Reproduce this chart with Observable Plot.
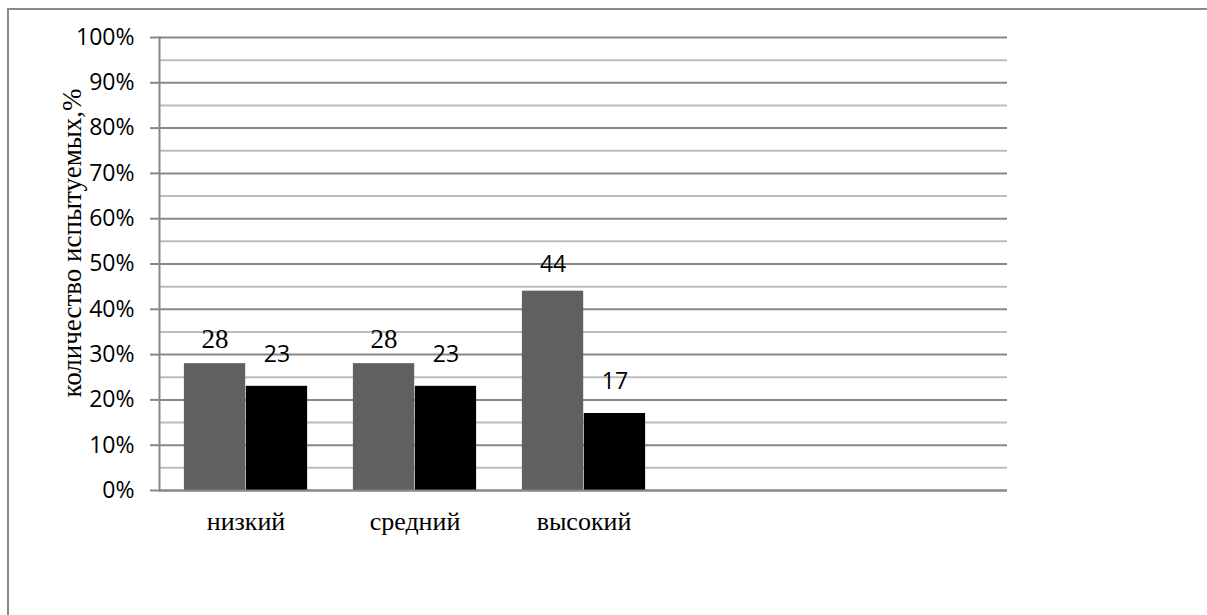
<!DOCTYPE html>
<html>
<head>
<meta charset="utf-8">
<script src="https://cdn.jsdelivr.net/npm/d3@7"></script>
<script src="https://cdn.jsdelivr.net/npm/@observablehq/plot@0.6"></script>
<style>
  html, body { margin: 0; padding: 0; background: #fff; overflow: hidden; }
  #wrap { position: relative; width: 1207px; height: 615px; overflow: hidden; }
  #border { position: absolute; left: 7px; top: 8px; width: 1400px; height: 800px;
            border: 2px solid #8a8a8a; pointer-events: none; }
</style>
</head>
<body>
<div id="wrap"><div id="chart"></div><div id="border"></div></div>
<script>
// ---- data ----
const categories = ["низкий", "средний", "высокий"];
const emptySlots = ["slot4", "slot5"];
const seriesGray = [28, 28, 44];
const seriesBlack = [23, 23, 17];
const yTicks = [0, 10, 20, 30, 40, 50, 60, 70, 80, 90, 100];
const yMinorTicks = [5, 15, 25, 35, 45, 55, 65, 75, 85, 95];
const yLabel = "количество испытуемых,%";

// ---- build table ----
const grayRows = categories.map((c, i) => ({cat: c, value: seriesGray[i]}));
const blackRows = categories.map((c, i) => ({cat: c, value: seriesBlack[i]}));

const W = 1207, H = 615;
const mL = 159, mR = 200, mT = 37, mB = 125;
const bw = (W - mL - mR) / (categories.length + emptySlots.length);
const side = bw * 0.135;          // outer gap on each side of the group
const half = (bw - 2 * side) / 2; // width of one bar
const off = half / 2;             // bar center offset from band center

const serif = "'Liberation Serif', 'Times New Roman', serif";
const sans = "'Open Sans', 'Liberation Sans', sans-serif";

const chart = Plot.plot({
  width: W,
  height: H,
  marginLeft: mL,
  marginRight: mR,
  marginTop: mT,
  marginBottom: mB,
  style: {background: "#fff", overflow: "visible"},
  x: {type: "band", domain: [...categories, ...emptySlots], padding: 0},
  y: {domain: [0, 100]},
  marks: [
    Plot.ruleY(yMinorTicks, {stroke: "#bdbdbd", strokeWidth: 2}),
    Plot.ruleY(yTicks, {stroke: "#878787", strokeWidth: 2}),
    Plot.barY(grayRows, {x: "cat", y: "value", fill: "#606060",
      insetLeft: side, insetRight: bw - side - half}),
    Plot.barY(blackRows, {x: "cat", y: "value", fill: "#000000",
      insetLeft: side + half, insetRight: side}),
    Plot.frame({anchor: "left", stroke: "#878787", strokeWidth: 2}),
    Plot.ruleY([0], {stroke: "#878787", strokeWidth: 2}),
    Plot.axisY({ticks: yTicks, tickSize: 9, tickPadding: 16, stroke: "#878787", strokeWidth: 2,
      tickFormat: d => d + "%", label: null, fontSize: 23, fontFamily: sans, fill: "#000"}),
    Plot.axisX({tickSize: 0, tickPadding: 21, label: null,
      tickFormat: d => categories.includes(d) ? d : "",
      fontSize: 26, fontFamily: serif, fill: "#000"}),
    Plot.text(grayRows.filter(d => d.cat !== "высокий"), {x: "cat", y: "value", text: d => String(d.value),
      dx: -off, dy: -24, lineAnchor: "middle", fontSize: 27, fontFamily: serif, fill: "#000"}),
    Plot.text(grayRows.filter(d => d.cat === "высокий"), {x: "cat", y: "value", text: d => String(d.value),
      dx: -off, dy: -27, lineAnchor: "middle", fontSize: 23, fontFamily: sans, fill: "#000"}),
    Plot.text(blackRows, {x: "cat", y: "value", text: d => String(d.value),
      dx: off, dy: -32, lineAnchor: "middle", fontSize: 23, fontFamily: sans, fill: "#000"}),
    Plot.text([yLabel], {frameAnchor: "left", text: d => d, rotate: -90,
      dx: -87, dy: -21, textAnchor: "middle", lineAnchor: "middle",
      fontSize: 27, fontFamily: serif, fill: "#000"})
  ]
});
document.getElementById("chart").appendChild(chart);
</script>
</body>
</html>
